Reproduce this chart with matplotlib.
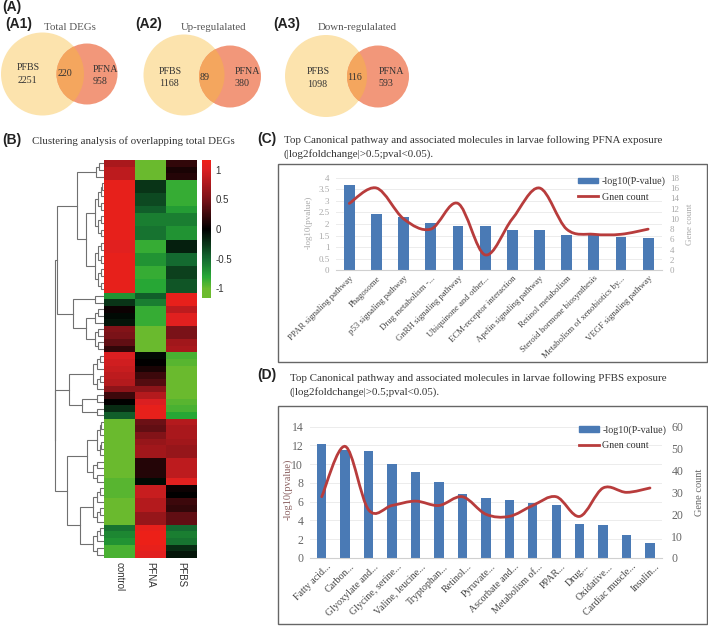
import numpy as np
import matplotlib
matplotlib.use('Agg')
import matplotlib.pyplot as plt
from matplotlib.colors import LinearSegmentedColormap
from matplotlib.patches import Circle, Rectangle, Patch, PathPatch
from matplotlib.path import Path
from matplotlib.lines import Line2D
from matplotlib.transforms import ScaledTranslation

W, H = 708, 626
SERIF = 'Liberation Serif'
SANS = 'Liberation Sans'

venn_titles = ['Total DEGs', 'Up-regulalated', 'Down-regulalated']
venn_panels = ['(A1)', '(A2)', '(A3)']
pfbs_only = [2251, 1168, 1098]
overlap = [220, 89, 116]
pfna_only = [958, 380, 593]

# heatmap rows, top to bottom
control = [.75, .85, .85, 1.1, 1.1, 1.1, 1.1, 1.1, 1.1, 1.1, 1.1, 1.1, 1.05, 1.05, 1.1, 1.1, 1.1, 1.1, 1.1, 1.1,
           -.7, -.25, .05, -.05, -.1, .55, .5, .4, .2, 1.0, .95, .9, .85, .8, .6, .25, 0, -.2, -.45,
           -1, -1, -1, -1, -1, -1, -1, -1, -1, -.95, -.95, -.95, -1, -1, -1, -1, -.55, -.65, -.7, -.9, -.9]
pfna = [-1, -1, -1, -.25, -.25, -.35, -.35, -.45, -.6, -.6, -.55, -.55, -.85, -.85, -.7, -.7, -.85, -.85, -.8, -.8,
        -.45, -.6, -.85, -.85, -.85, -1, -1, -1, -1, -.05, 0, .1, .25, .35, .6, .8, 1, 1.1, 1.1,
        .45, .4, .55, .65, .7, .7, .15, .15, .15, -.05, .9, .9, .8, .8, .65, .65, 1.1, 1.15, 1.15, 1.1, 1.05]
pfbs = [.2, .1, .15, -.85, -.85, -.85, -.85, -.75, -.6, -.6, -.7, -.7, -.15, -.15, -.5, -.5, -.3, -.3, -.4, -.4,
        1.1, 1.1, .85, 1.05, 1.05, .5, .5, .7, .75, -.9, -.95, -1, -1, -1, -1, -1, -.95, -.9, -.8,
        .8, .75, .75, .7, .65, .65, .85, .85, .85, 1.05, .05, 0, .25, .2, .4, .4, -.5, -.6, -.55, -.2, -.1]
heat_cols = ['control', 'PFNA', 'PFBS']
cbar_ticks = [-1, -.5, 0, .5, 1]

c_labels = ['PPAR signaling pathway', 'Phagosome', 'p53 signaling pathway', 'Drug metabolism -...',
            'GnRH signaling pathway', 'Ubiquinone and other...', 'ECM-receptor interaction',
            'Apelin signaling pathway', 'Retinol metabolism', 'Steroid hormone biosynthesis',
            'Metabolism of xenobiotics by...', 'VEGF signaling pathway']
c_pval = [3.67, 2.43, 2.3, 2.03, 1.91, 1.9, 1.73, 1.72, 1.52, 1.52, 1.42, 1.38]
c_count = [13, 16, 10, 8, 13, 3, 10, 16, 8, 7, 7, 8]

d_labels = ['Fatty acid...', 'Carbon...', 'Glyoxylate and...', 'Glycine, serine...', 'Valine, leucine...',
            'Tryptophan...', 'Retinol...', 'Pyruvate...', 'Ascorbate and...', 'Metabolism of...',
            'PPAR...', 'Drug...', 'Oxidative...', 'Cardiac muscle...', 'Insulin...']
d_pval = [12.15, 11.5, 11.4, 10, 9.15, 8.15, 6.85, 6.45, 6.2, 5.9, 5.65, 3.65, 3.5, 2.5, 1.6]
d_count = [28, 51, 22, 24, 26, 24, 28, 20, 19, 24, 28, 19, 32, 30, 32]


def px_axes(x0, y0, x1, y1):
    # axes from pixel box, y measured from the top
    return fig.add_axes([x0 / W, 1 - y1 / H, (x1 - x0) / W, (y1 - y0) / H])


def small(a, b, h):
    # little brackets next to the leaves
    if a == b:
        return a
    m = (a + b) // 2
    return (h, small(a, m, h * .62), small(m + 1, b, h * .62))


# dendrogram, (distance from leaves, child, child)
tree = (49,
        (47,
         (27, small(0, 2, 8),
          (18, small(3, 11, 9), small(12, 19, 9))),
         (31, small(20, 21, 9),
          (18, small(22, 24, 9), small(25, 28, 9)))),
        (49,
         (35, small(29, 34, 11),
          (22, small(35, 36, 7), small(37, 38, 7))),
         (37,
          (17, small(39, 44, 7), small(45, 48, 11)),
          (24, small(49, 54, 11), small(55, 59, 11)))))


def draw_tree(ax, node):
    if not isinstance(node, tuple):
        return node + .5, 0
    h, a, b = node
    ya, ha = draw_tree(ax, a)
    yb, hb = draw_tree(ax, b)
    ax.plot([ha, h, h, hb], [ya, ya, yb, yb], color='#707070', lw=.8, solid_joinstyle='miter')
    return (ya + yb) / 2, h


def smooth_line(ax, ys, color):
    # excel style smoothed line through the points
    xs = np.arange(len(ys), dtype=float)
    ys = np.array(ys, dtype=float)
    verts = [(xs[0], ys[0])]
    codes = [Path.MOVETO]
    for i in range(len(ys) - 1):
        x0, y0 = xs[max(i - 1, 0)], ys[max(i - 1, 0)]
        x3, y3 = xs[min(i + 2, len(ys) - 1)], ys[min(i + 2, len(ys) - 1)]
        c1 = (xs[i] + (xs[i + 1] - x0) / 6, ys[i] + (ys[i + 1] - y0) / 6)
        c2 = (xs[i + 1] - (x3 - xs[i]) / 6, ys[i + 1] - (y3 - ys[i]) / 6)
        verts += [c1, c2, (xs[i + 1], ys[i + 1])]
        codes += [Path.CURVE4] * 3
    ax.add_patch(PathPatch(Path(verts, codes), fill=False, edgecolor=color, lw=2, capstyle='round'))


def combo(box, labels, pval, count, ymax, ystep, rmax, rstep, width, tick_fs, lab_fs, lab_shift, tick_col, ylab, rlab, leg_y):
    ax = px_axes(*box)
    x = np.arange(len(pval))
    ax.bar(x, pval, width=width, color='#4a7ab5', zorder=2)
    ax.set_xlim(-.5, len(pval) - .5)
    ax.set_ylim(0, ymax)
    ax.set_yticks(np.arange(0, ymax + ystep / 2, ystep))
    ax.yaxis.set_major_formatter(plt.FuncFormatter(lambda v, pos: '%g' % v))
    ax.set_xticks(x)
    ax.set_xticklabels(labels, rotation=45, ha='right', rotation_mode='anchor', family=SERIF, fontsize=lab_fs, color='#444444')
    ax.tick_params(axis='x', length=0, pad=3)
    ax.tick_params(axis='y', length=0, labelsize=tick_fs, labelcolor=tick_col, pad=lab_fs * .4 + 2)
    # labels sit a bit right of their bars, has to come after tick_params
    shift = ScaledTranslation(lab_shift / 100, 0, fig.dpi_scale_trans)
    for lab in ax.get_xticklabels():
        lab.set_transform(lab.get_transform() + shift)
    for lab in ax.get_yticklabels():
        lab.set_family(SERIF)
    ax.grid(axis='y', color='#ececec', lw=.7, zorder=0)
    for s in ['top', 'left', 'right']:
        ax.spines[s].set_visible(False)
    ax.spines['bottom'].set_color('#d0d0d0')

    ax2 = ax.twinx()
    ax2.set_ylim(0, rmax)
    ax2.set_yticks(np.arange(0, rmax + rstep / 2, rstep))
    ax2.tick_params(axis='y', length=0, labelsize=tick_fs, labelcolor=tick_col, pad=rlab[3])
    for lab in ax2.get_yticklabels():
        lab.set_family(SERIF)
    for s in ax2.spines.values():
        s.set_visible(False)
    smooth_line(ax2, count, '#b83c3c')

    ax.set_ylabel('-log10(pvalue)', family=SERIF, fontsize=ylab[0], color=ylab[1])
    ax.yaxis.set_label_coords(ylab[2], .52)
    ax2.set_ylabel('Gene count', family=SERIF, fontsize=rlab[0], color=rlab[1])
    ax2.yaxis.set_label_coords(rlab[2], .5)

    handles = [Patch(color='#4a7ab5', label='-log10(P-value)'),
               Line2D([0], [0], color='#b83c3c', lw=2, label='Gnen count')]
    ax2.legend(handles=handles, loc='upper right', bbox_to_anchor=(1.013, leg_y), frameon=False,
               prop={'family': SERIF, 'size': 7.2}, labelcolor='#333333', handlelength=2.0,
               handleheight=.45, handletextpad=.35, labelspacing=.62, borderpad=0, borderaxespad=0)
    return ax, ax2


fig = plt.figure(figsize=(W / 100, H / 100), dpi=100)

over = fig.add_axes([0, 0, 1, 1])
over.set_xlim(0, W)
over.set_ylim(H, 0)
over.axis('off')


def serif(x, y, s, size=7.8, ha='left', va='center', color='#333333'):
    over.text(x, y, s, family=SERIF, fontsize=size, ha=ha, va=va, color=color)


def bold(x, y, s):
    over.text(x, y, s, family=SANS, fontweight='bold', fontsize=10, ha='left', va='center', color='#222222')


# venn diagrams
big_c = [(42.5, 74, 41.5), (184, 75, 40.5), (326, 76, 41)]
small_c = [(87, 74, 30.5), (230, 76.5, 31), (378, 76.5, 31)]
panel_x = [5, 135, 273]
title_x = [70, 214, 357]
pfbs_x = [28, 170, 318]
pfbs_y = [68, 71, 72]
over_x = [65, 205, 354]
over_y = [74, 77, 77]
pfna_x = [105, 247, 391]
pfna_y = [69, 72, 71]
for i in range(3):
    bx, by, br = big_c[i]
    sx, sy, sr = small_c[i]
    big = Circle((bx, by), br, fc='#fce3ad', ec='none')
    over.add_patch(big)
    over.add_patch(Circle((sx, sy), sr, fc='#f2977a', ec='none'))
    both = Circle((sx, sy), sr, fc='#f4a65e', ec='none')
    over.add_patch(both)
    both.set_clip_path(big)
    bold(panel_x[i], 24, venn_panels[i])
    serif(title_x[i], 27, venn_titles[i], ha='center', color='#555555')
    serif(pfbs_x[i], pfbs_y[i], 'PFBS', size=7.2, ha='center')
    serif(pfbs_x[i] - 1, pfbs_y[i] + 12.5, str(pfbs_only[i]), size=7.2, ha='center')
    serif(over_x[i], over_y[i], str(overlap[i]), size=7.2, ha='center')
    serif(pfna_x[i], pfna_y[i], 'PFNA', size=7.2, ha='center')
    serif(pfna_x[i] - 5, pfna_y[i] + 12, str(pfna_only[i]), size=7.2, ha='center')
bold(2, 7, '(A)')

# panel titles and frames
bold(2, 140, '(B)')
serif(32, 141, 'Clustering analysis of overlapping total DEGs', size=7.8)
bold(257, 139, '(C)')
serif(284, 140, 'Top Canonical pathway and associated molecules in larvae following PFNA exposure', size=7.9)
serif(284, 154, '(|log2foldchange|>0.5;pval<0.05).', size=7.9)
bold(257, 375, '(D)')
serif(290, 378, 'Top Canonical pathway and associated molecules in larvae following PFBS exposure', size=7.9)
serif(290, 392, '(|log2foldchange|>0.5;pval<0.05).', size=7.9)
over.add_patch(Rectangle((278, 164), 429, 198, fc='white', ec='#666666', lw=1))
over.add_patch(Rectangle((277.5, 406), 429, 218, fc='white', ec='#666666', lw=1))

# heatmap
cmap = LinearSegmentedColormap.from_list('gbr', [
    (0, '#6cbb2e'), (.15 / 2.3, '#6cbb2e'), (.35 / 2.3, '#28a836'), (.65 / 2.3, '#146a30'),
    (1.15 / 2.3, '#000000'), (1.65 / 2.3, '#7a1218'), (2.15 / 2.3, '#dc2022'), (1, '#ee2018')])
heat = np.array([control, pfna, pfbs]).T
ax_h = px_axes(104, 160, 197, 558)
im = ax_h.imshow(heat, cmap=cmap, vmin=-1.16, vmax=1.16, aspect='auto', interpolation='nearest')
ax_h.set_xticks(range(3))
ax_h.set_xticklabels(heat_cols, rotation=-90, family=SANS, fontsize=7, color='#333333')
ax_h.set_yticks([])
ax_h.tick_params(axis='x', length=0, pad=3)
for s in ax_h.spines.values():
    s.set_visible(False)

ax_d = px_axes(52, 160, 104, 558)
draw_tree(ax_d, tree)
ax_d.set_xlim(52, 0)
ax_d.set_ylim(len(control), 0)
ax_d.axis('off')

cax = px_axes(202, 160, 211, 298)
cb = fig.colorbar(im, cax=cax, ticks=cbar_ticks)
cb.outline.set_visible(False)
cb.ax.yaxis.set_major_formatter(plt.FuncFormatter(lambda v, pos: '%g' % v))
cb.ax.tick_params(length=0, labelsize=7, labelcolor='#333333', pad=3)
for lab in cb.ax.get_yticklabels():
    lab.set_family(SANS)

combo((335.7, 177.7, 661.7, 270.3), c_labels, c_pval, c_count, 4, .5, 18, 2, .4, 6.5, 6.3, 0, '#a8a8a8',
      (6.5, '#a8a8a8', -.07), (6.5, '#a8a8a8', 1.075, 6), 1.01)
combo((310, 426.7, 661.7, 558), d_labels, d_pval, d_count, 14, 2, 60, 10, .4, 8.5, 7.2, 5, '#666666',
      (7.5, '#8a5f5f', -.05), (7.5, '#666666', 1.095, 7), 1.01)

plt.savefig('out.png', dpi=100)
